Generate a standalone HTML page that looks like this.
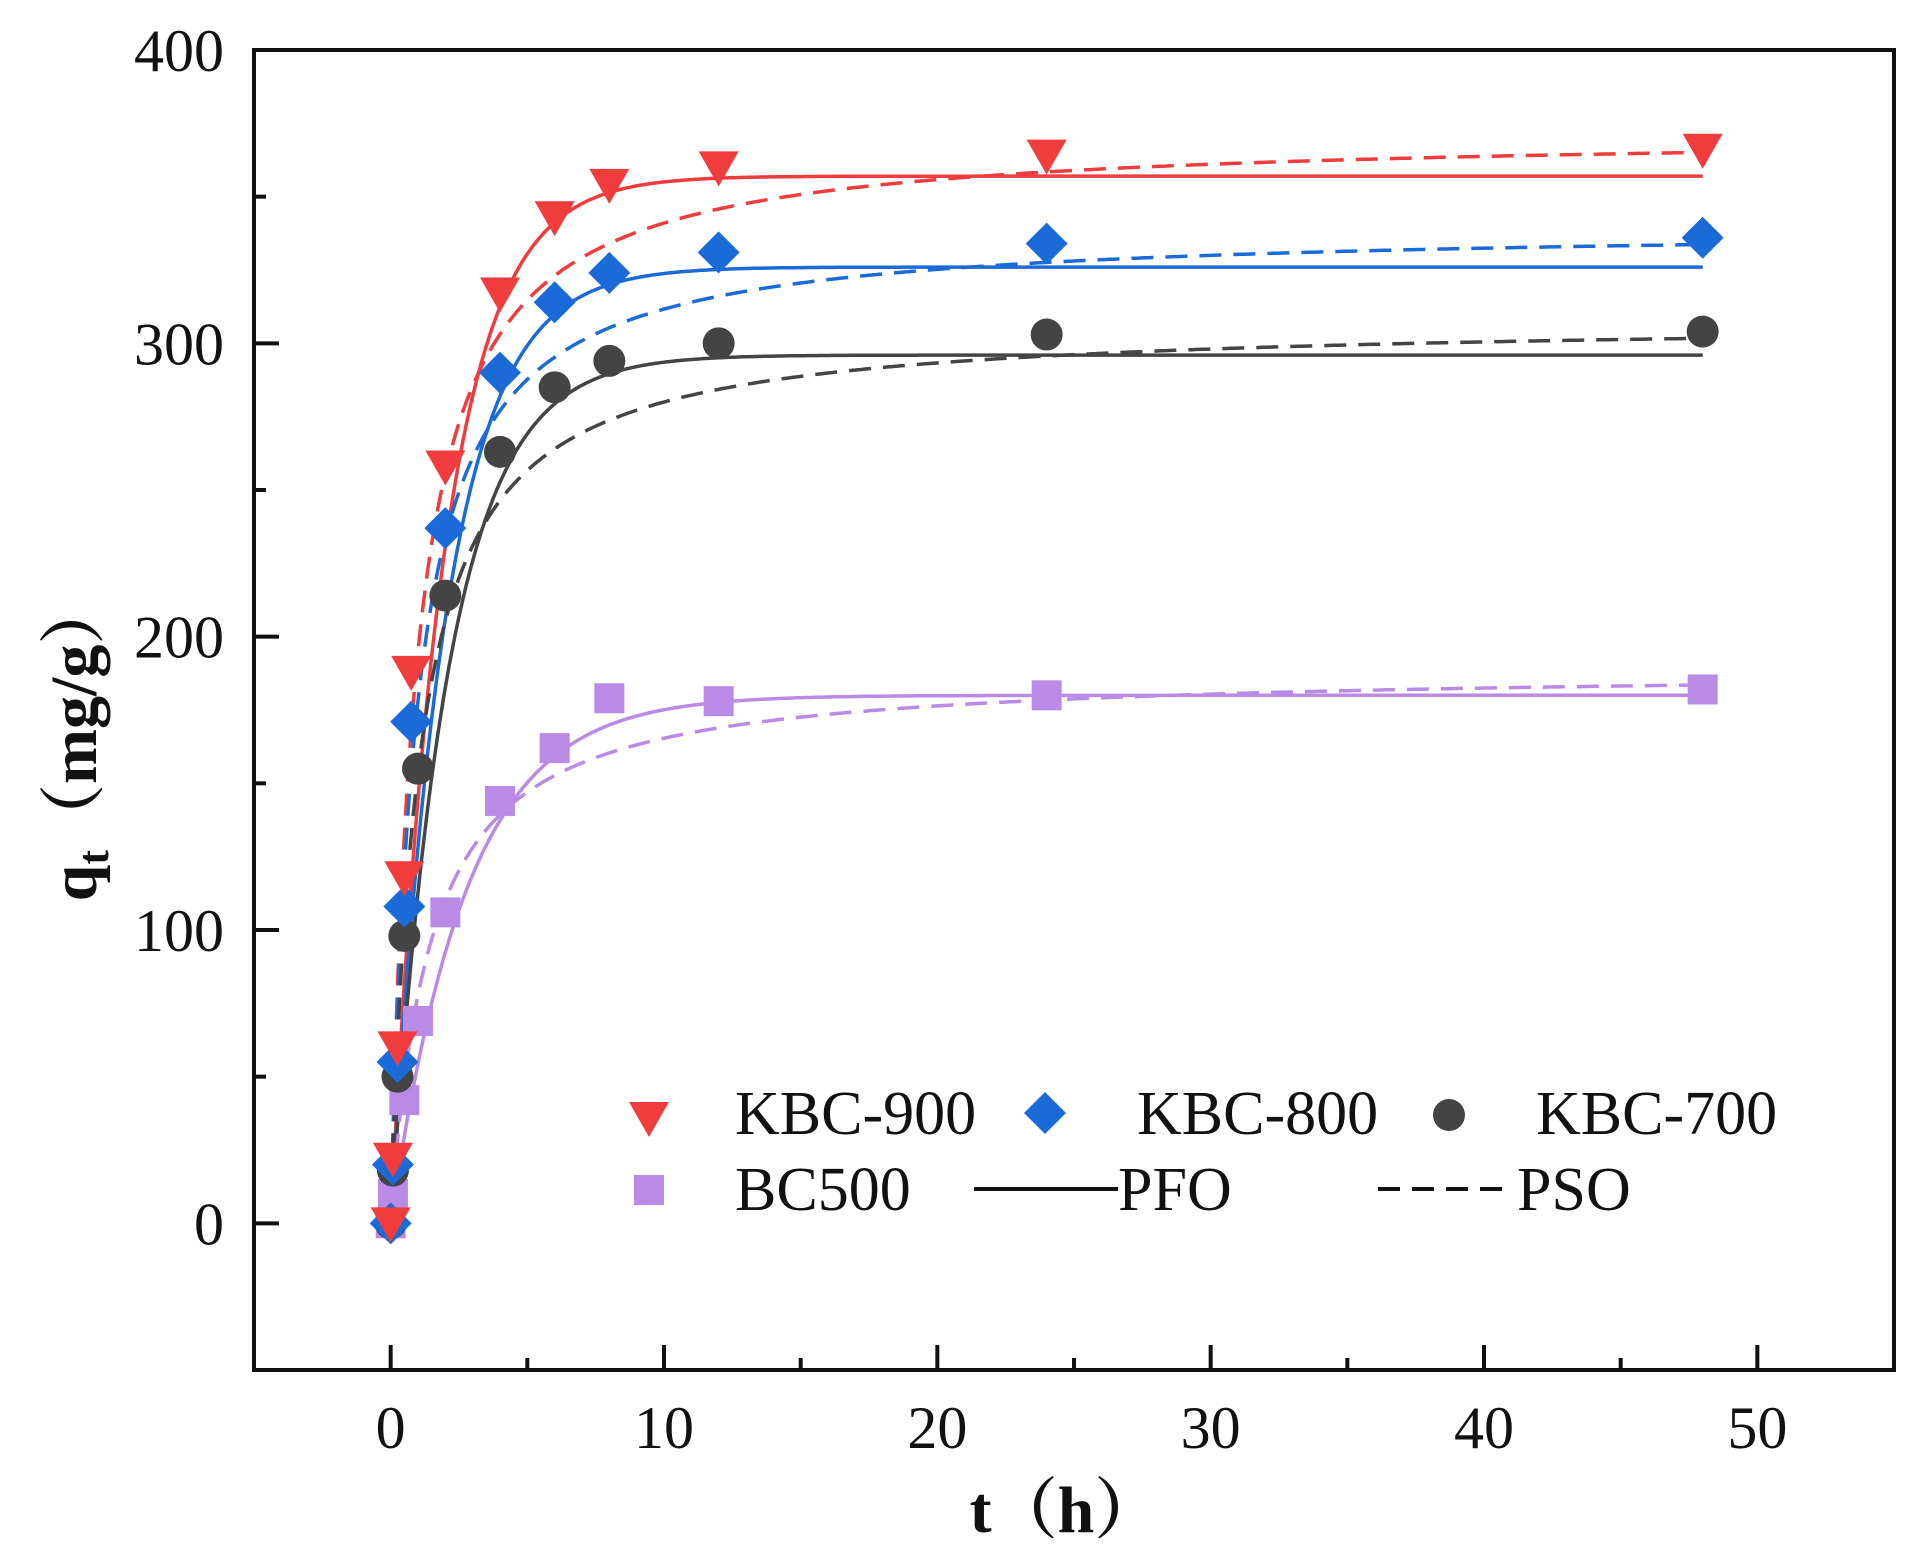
<!DOCTYPE html>
<html><head><meta charset="utf-8"><style>
html,body{margin:0;padding:0;background:#fff;}
svg{display:block;font-family:"Liberation Serif","Noto Serif CJK SC",serif;}
</style></head><body>
<svg id="chart" width="1923" height="1545" viewBox="0 0 1923 1545" xmlns="http://www.w3.org/2000/svg">
<g id="plot"></g>
<g id="axes"></g>
<g id="legend"></g>
</svg>
<script>
const xTicks=[0,10,20,30,40,50];
const yTicks=[0,100,200,300,400];
const xMinor=[5,15,25,35,45];
const yMinor=[50,150,250,350];
const seriesNames=["KBC-900","KBC-800","KBC-700","BC500"];
const t900=[0,0.083,0.25,0.5,0.75,2,4,6,8,12,24,48];
const q900=[0,22,60,118,188,258,317,343,354,360,364,366];
const t800=[0,0.083,0.25,0.5,0.75,2,4,6,8,12,24,48];
const q800=[0,20,55,108,171,237,290,314,324,331,334,336];
const t700=[0,0.083,0.25,0.5,1,2,4,6,8,12,24,48];
const q700=[0,18,50,98,155,214,263,285,294,300,303,304];
const t500=[0,0.083,0.5,1,2,4,6,8,12,24,48];
const q500=[0,10,42,69,106,144,162,179,178,180,182];
const pfoQe=[357,326,296,180];
const pfoK=[0.52,0.5,0.48,0.36];
const psoQe=[372,340,308,189];
const psoH=[1.1,1.1,1.0,0.7];
const colors=["#f03c3c","#1a6ad8","#444444","#b98ae6"];

const NS="http://www.w3.org/2000/svg";
const L=254,R=1894,T=50,B=1370;
const xmin=-5,xmax=55,ymin=-50,ymax=400;
const X=v=>L+(v-xmin)/(xmax-xmin)*(R-L);
const Y=v=>B-(v-ymin)/(ymax-ymin)*(B-T);
function mk(tag,attrs,parent){const e=document.createElementNS(NS,tag);for(const k in attrs)e.setAttribute(k,attrs[k]);parent.appendChild(e);return e;}
const plot=document.getElementById('plot'),axes=document.getElementById('axes'),leg=document.getElementById('legend');

function marker(kind,cx,cy,color,parent){
  let e;
  if(kind===0) e=mk('polygon',{points:`${cx-20},${cy-16} ${cx+20},${cy-16} ${cx},${cy+19}`,fill:color},parent);
  else if(kind===1) e=mk('polygon',{points:`${cx},${cy-21} ${cx+21},${cy} ${cx},${cy+21} ${cx-21},${cy}`,fill:color},parent);
  else if(kind===2) e=mk('circle',{cx:cx,cy:cy,r:16,fill:color},parent);
  else e=mk('rect',{x:cx-15,y:cy-15,width:30,height:30,fill:color},parent);
  return e;
}
const tsArr=[];for(let i=0;i<=600;i++){tsArr.push(48*Math.pow(i/600,2));}
for(let s=0;s<4;s++){
  let d1='',d2='';
  tsArr.forEach((t,i)=>{
    const p=pfoQe[s]*(1-Math.exp(-pfoK[s]*t));
    const q=psoQe[s]*psoH[s]*t/(1+psoH[s]*t);
    d1+=(i?'L':'M')+X(t).toFixed(1)+','+Y(p).toFixed(1);
    d2+=(i?'L':'M')+X(t).toFixed(1)+','+Y(q).toFixed(1);
  });
  const a=mk('path',{d:d1,fill:'none',stroke:colors[s],'stroke-width':3.5},plot);
  
  
  const b=mk('path',{d:d2,fill:'none',stroke:colors[s],'stroke-width':3.5,'stroke-dasharray':'22 12'},plot);
  
  
}
const ts=[t900,t800,t700,t500],qs=[q900,q800,q700,q500];
for(let s=3;s>=0;s--){
  ts[s].forEach((t,i)=>{
    const e=marker(s,X(t),Y(qs[s][i]),colors[s],plot);
    
    
  });
}
const fr=mk('rect',{x:L,y:T,width:R-L,height:B-T,fill:'none',stroke:'#111','stroke-width':4},axes);


xTicks.forEach(v=>{
  mk('line',{x1:X(v),x2:X(v),y1:B,y2:B-25,stroke:'#111','stroke-width':4},axes);
  const t=mk('text',{x:X(v),y:B+78,'text-anchor':'middle','font-size':60,fill:'#111'},axes);t.textContent=v;
  
  
});
xMinor.forEach(v=>mk('line',{x1:X(v),x2:X(v),y1:B,y2:B-12,stroke:'#111','stroke-width':4},axes));
yTicks.forEach(v=>{
  mk('line',{x1:L,x2:L+25,y1:Y(v),y2:Y(v),stroke:'#111','stroke-width':4},axes);
  const t=mk('text',{x:L-30,y:Y(v)+21,'text-anchor':'end','font-size':60,fill:'#111'},axes);t.textContent=v;
  
  
});
yMinor.forEach(v=>mk('line',{x1:L,x2:L+12,y1:Y(v),y2:Y(v),stroke:'#111','stroke-width':4},axes));
const xt=mk('text',{x:1065,y:1532,'text-anchor':'middle','font-size':66,'font-weight':'bold',fill:'#111'},axes);
xt.innerHTML='t（h）';


const yt=mk('text',{x:0,y:0,'text-anchor':'middle','font-size':66,'font-weight':'bold',fill:'#111',transform:'translate(96,740) rotate(-90)'},axes);
yt.innerHTML='q<tspan font-size="44" dy="12">t</tspan><tspan dy="-12">（mg/g）</tspan>';


const legItems=[[649,1118,735,1134,0],[1045,1113,1137,1134,1],[1449,1115,1536,1134,2],[649,1190,735,1210,3]];
legItems.forEach((p,s)=>{
  const m=marker(p[4],p[0],p[1],colors[s],leg);
  
  
  const t=mk('text',{x:p[2],y:p[3],'font-size':62,fill:'#111'},leg);t.textContent=seriesNames[s];
  
  
});
mk('line',{x1:974,x2:1118,y1:1189,y2:1189,stroke:'#111','stroke-width':4},leg);
const pf=mk('text',{x:1118,y:1210,'font-size':62,fill:'#111'},leg);pf.textContent='PFO';


mk('line',{x1:1378,x2:1512,y1:1189,y2:1189,stroke:'#111','stroke-width':4,'stroke-dasharray':'22 12'},leg);
const ps=mk('text',{x:1517,y:1210,'font-size':62,fill:'#111'},leg);ps.textContent='PSO';


</script>
</body></html>
